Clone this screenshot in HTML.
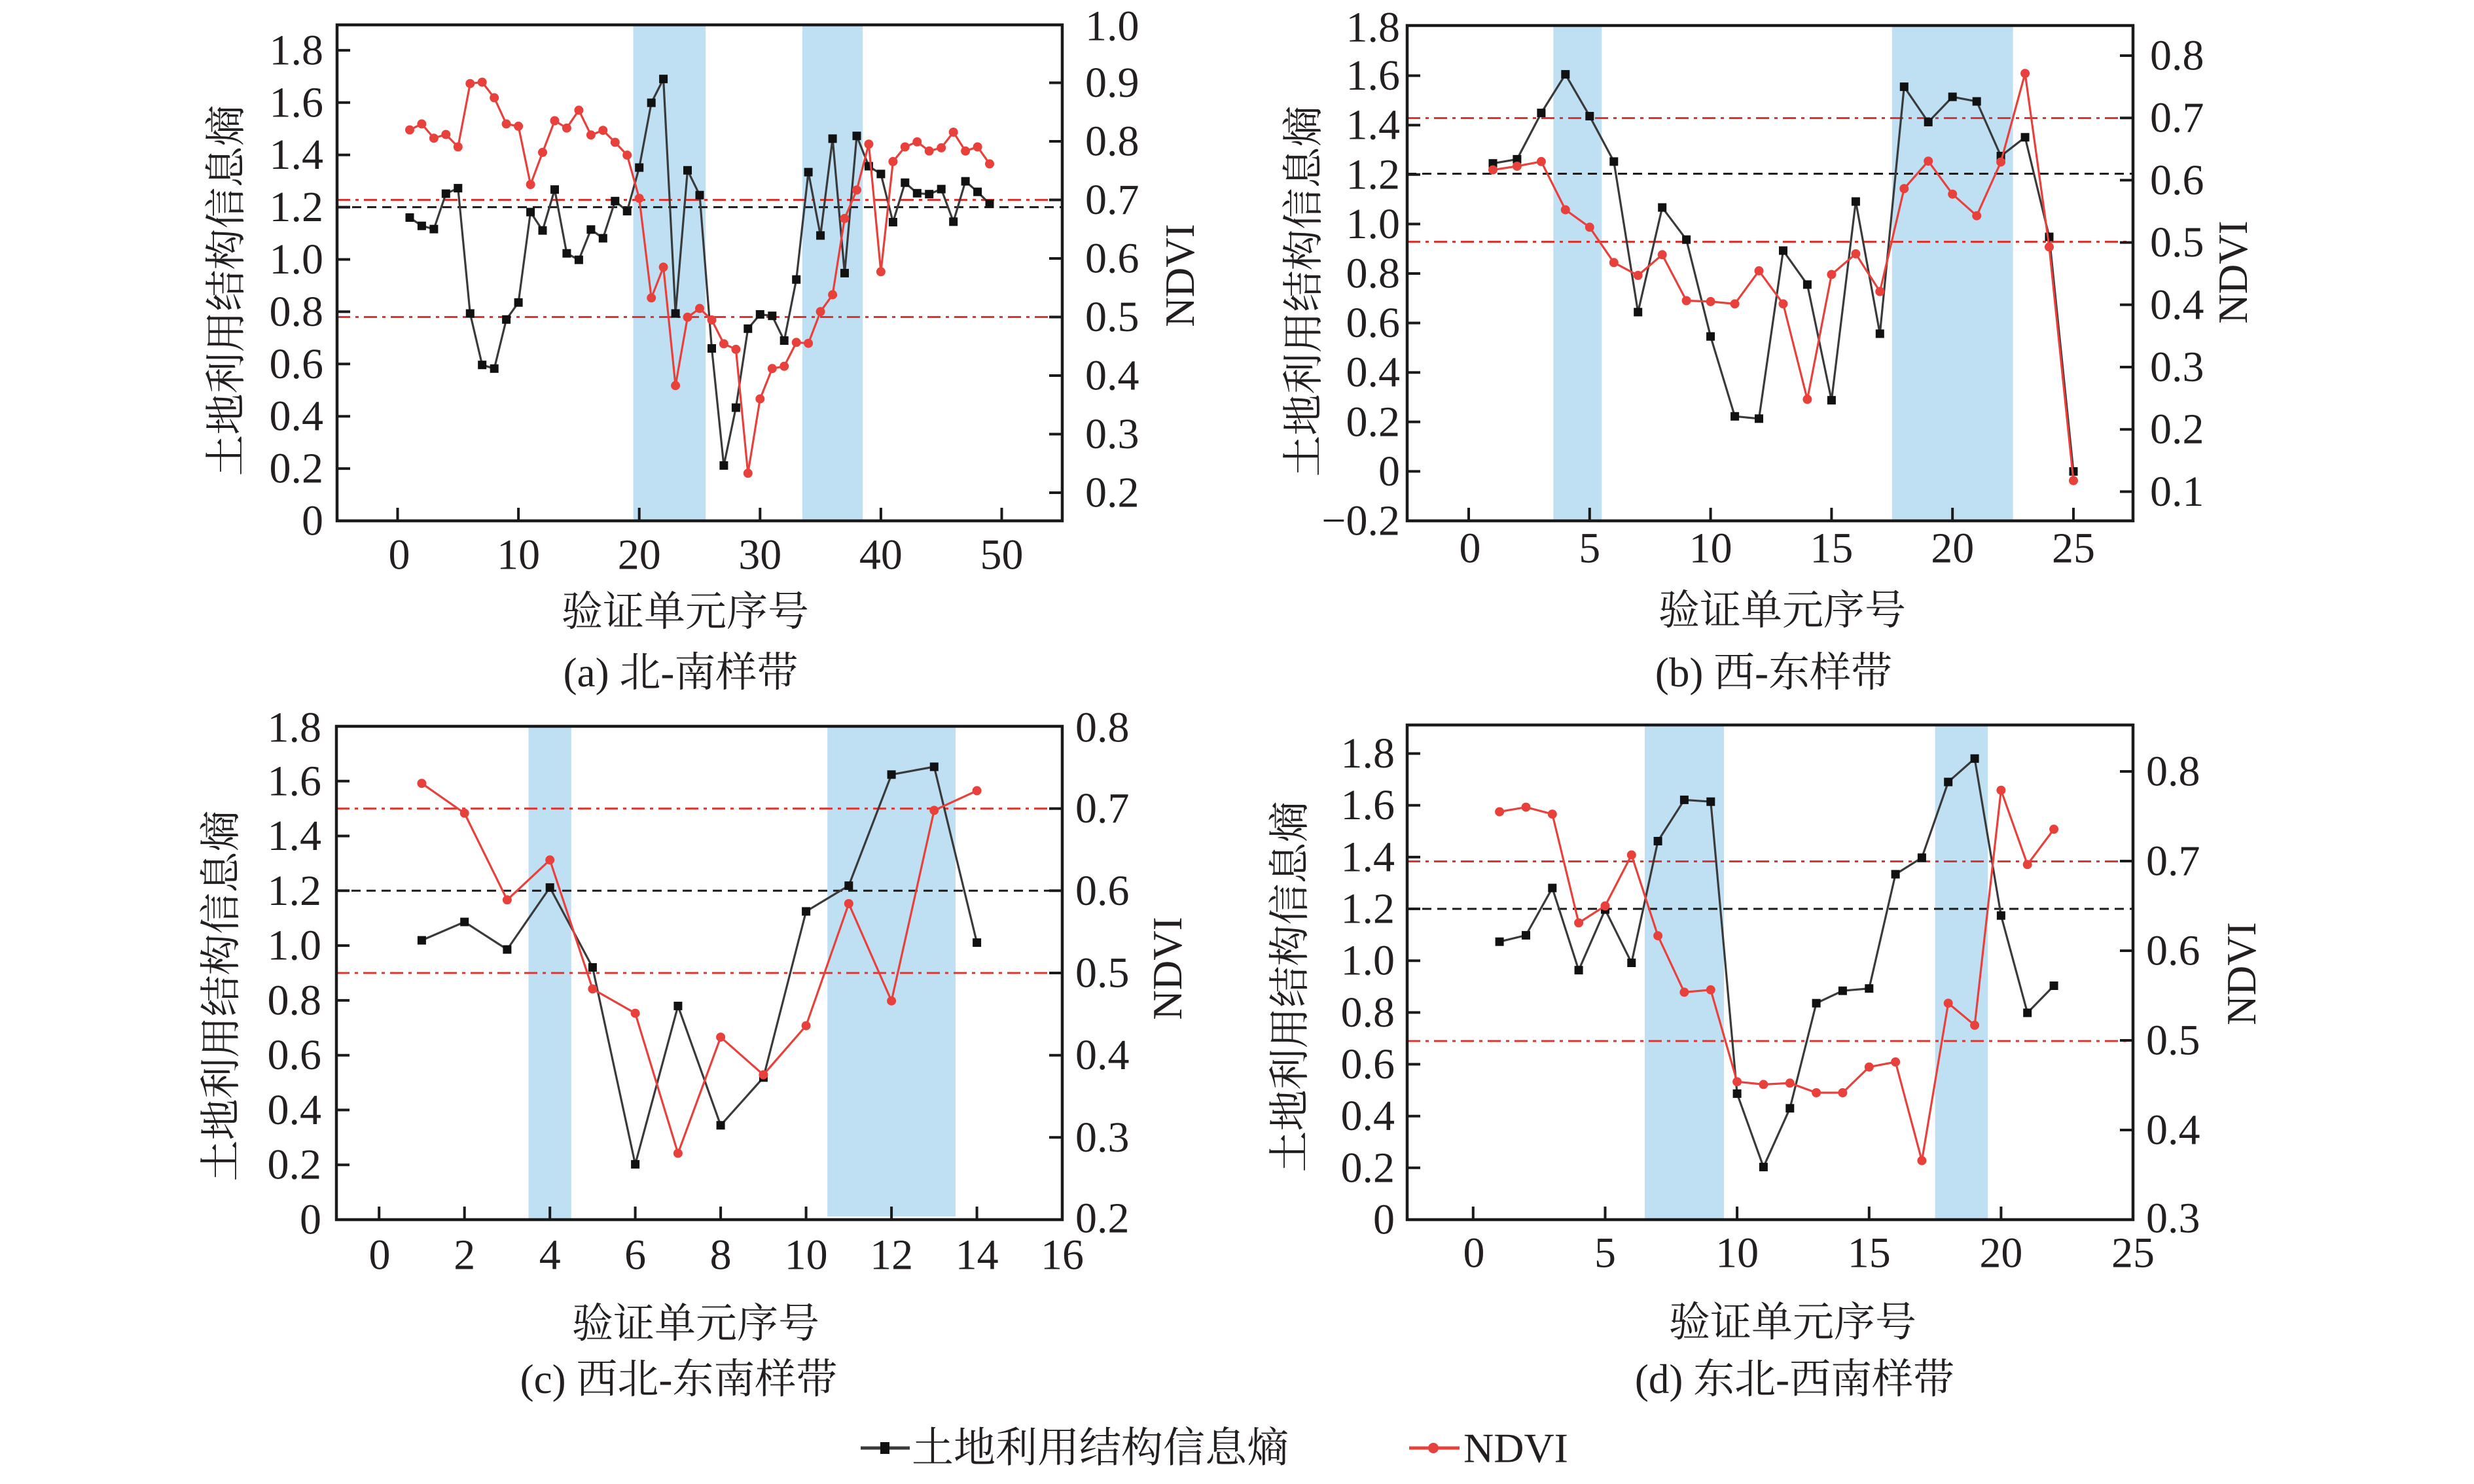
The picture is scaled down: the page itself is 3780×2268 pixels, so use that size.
<!DOCTYPE html>
<html><head><meta charset="utf-8"><style>
html,body{margin:0;padding:0;background:#fff;}
svg{display:block;}
.t{font-family:"Liberation Serif","Noto Serif CJK SC",serif;font-size:66px;fill:#231f20;dominant-baseline:central;}
.c{font-family:"Liberation Serif","Noto Serif CJK SC","Noto Sans CJK SC",serif;font-size:63px;fill:#231f20;dominant-baseline:central;}
.l{text-anchor:end;}
.m{text-anchor:middle;}
.fr{fill:none;stroke:#1a1a1a;stroke-width:4.5;}
.tk{fill:none;stroke:#1a1a1a;stroke-width:4;}
.band{fill:#bfe0f3;}
.bd{stroke:#1a1a1a;stroke-width:3;stroke-dasharray:14 9;fill:none;}
.rd{stroke:#e0332e;stroke-width:3;stroke-dasharray:20 8 5 8;fill:none;}
.sb{fill:none;stroke:#3a3a3a;stroke-width:3.2;marker-start:url(#ms);marker-mid:url(#ms);marker-end:url(#ms);}
.sr{fill:none;stroke:#e8413c;stroke-width:3.2;marker-start:url(#mc);marker-mid:url(#mc);marker-end:url(#mc);}
</style></head><body>
<svg width="3780" height="2268" viewBox="0 0 3780 2268" xmlns="http://www.w3.org/2000/svg">
<defs>
<marker id="ms" viewBox="-8 -8 16 16" markerWidth="16" markerHeight="16" markerUnits="userSpaceOnUse" refX="0" refY="0"><rect x="-6.5" y="-6.5" width="13" height="13" fill="#111"/></marker>
<marker id="mc" viewBox="-8 -8 16 16" markerWidth="16" markerHeight="16" markerUnits="userSpaceOnUse" refX="0" refY="0"><circle r="7" fill="#e8413c"/></marker>
</defs>
<rect width="3780" height="2268" fill="#fff"/>

<!-- ============ Panel a ============ -->
<rect class="band" x="967.5" y="38" width="110.7" height="758"/>
<rect class="band" x="1225.9" y="38" width="92.3" height="758"/>
<line class="bd" x1="515" y1="316.6" x2="1623" y2="316.6"/>
<line class="rd" x1="515" y1="305.5" x2="1623" y2="305.5"/>
<line class="rd" x1="515" y1="484.5" x2="1623" y2="484.5"/>
<polyline class="sb" points="626.0,332.5 644.4,345.2 662.9,350.1 681.3,296.0 699.8,287.6 718.3,479.1 736.7,557.7 755.2,563.3 773.6,488.3 792.1,462.3 810.6,324.1 829.0,352.2 847.5,289.7 865.9,387.2 884.4,397.1 902.9,350.8 921.3,364.1 939.8,307.3 958.2,322.7 976.7,256.1 995.2,157.1 1013.6,120.7 1032.1,479.1 1050.5,260.3 1069.0,298.2 1087.5,532.5 1105.9,711.4 1124.4,623.0 1142.8,502.3 1161.3,480.5 1179.8,482.7 1198.2,520.5 1216.7,427.2 1235.1,263.1 1253.6,359.9 1272.1,211.9 1290.5,417.4 1309.0,207.7 1327.4,254.0 1345.9,265.9 1364.4,339.5 1382.8,279.2 1401.3,295.3 1419.7,296.7 1438.2,289.0 1456.7,338.8 1475.1,277.1 1493.6,293.2 1512.0,311.5"/>
<polyline class="sr" points="626.0,198.5 644.4,189.4 662.9,211.2 681.3,205.5 699.8,224.5 718.3,127.7 736.7,125.6 755.2,149.4 773.6,189.4 792.1,192.9 810.6,282.0 829.0,232.9 847.5,184.5 865.9,195.7 884.4,168.4 902.9,206.3 921.3,199.2 939.8,217.5 958.2,237.1 976.7,303.1 995.2,455.3 1013.6,408.3 1032.1,589.3 1050.5,484.8 1069.0,471.4 1087.5,489.0 1105.9,525.4 1124.4,533.9 1142.8,723.3 1161.3,609.6 1179.8,563.3 1198.2,559.8 1216.7,523.3 1235.1,524.7 1253.6,476.3 1272.1,450.4 1290.5,333.9 1309.0,290.4 1327.4,220.3 1345.9,415.3 1364.4,246.9 1382.8,224.5 1401.3,216.8 1419.7,230.8 1438.2,225.9 1456.7,202.0 1475.1,230.8 1493.6,224.5 1512.0,250.4"/>
<rect class="fr" x="515" y="38" width="1108" height="758"/>
<path class="tk" d="M607.5 796v-20M792.1 796v-20M976.7 796v-20M1161.3 796v-20M1345.9 796v-20M1530.5 796v-20M515 716.1h20M515 636.2h20M515 556.3h20M515 476.4h20M515 396.5h20M515 316.6h20M515 236.7h20M515 156.8h20M515 76.9h20M1623 126.5h-20M1623 216h-20M1623 305.5h-20M1623 395h-20M1623 484.5h-20M1623 574h-20M1623 663.5h-20M1623 753h-20"/>
<g class="t l">
<text x="494" y="796">0</text><text x="494" y="716.1">0.2</text><text x="494" y="636.2">0.4</text><text x="494" y="556.3">0.6</text><text x="494" y="476.4">0.8</text><text x="494" y="396.5">1.0</text><text x="494" y="316.6">1.2</text><text x="494" y="236.7">1.4</text><text x="494" y="156.8">1.6</text><text x="494" y="76.9">1.8</text>
</g>
<g class="t">
<text x="1658" y="40">1.0</text><text x="1658" y="126.5">0.9</text><text x="1658" y="216">0.8</text><text x="1658" y="305.5">0.7</text><text x="1658" y="395">0.6</text><text x="1658" y="484.5">0.5</text><text x="1658" y="574">0.4</text><text x="1658" y="663.5">0.3</text><text x="1658" y="753">0.2</text>
</g>
<g class="t m">
<text x="610" y="848">0</text><text x="792.1" y="848">10</text><text x="976.7" y="848">20</text><text x="1161.3" y="848">30</text><text x="1345.9" y="848">40</text><text x="1530.5" y="848">50</text>
</g>
<text class="c m" x="1047" y="935">验证单元序号</text>
<text class="c m" x="1040" y="1028">(a) 北-南样带</text>
<text class="c m" transform="translate(346,444) rotate(-90)">土地利用结构信息熵</text>
<text class="c m" transform="translate(1803,421) rotate(-90)">NDVI</text>

<!-- ============ Panel b ============ -->
<rect class="band" x="2373.4" y="39" width="73.9" height="757"/>
<rect class="band" x="2890.8" y="39" width="184.8" height="757"/>
<line class="bd" x1="2150" y1="265.5" x2="3259" y2="265.5"/>
<line class="rd" x1="2150" y1="180.5" x2="3259" y2="180.5"/>
<line class="rd" x1="2150" y1="369.5" x2="3259" y2="369.5"/>
<polyline class="sb" points="2281.0,249.7 2317.9,243.4 2354.9,172.6 2391.8,113.6 2428.8,177.5 2465.8,246.9 2502.7,477.0 2539.7,317.1 2576.6,366.2 2613.6,514.2 2650.6,636.3 2687.5,639.8 2724.5,383.0 2761.4,434.9 2798.4,611.7 2835.4,308.0 2872.3,510.0 2909.3,132.6 2946.2,186.6 2983.2,148.0 3020.2,155.0 3057.1,238.5 3094.1,209.8 3131.0,362.0 3168.0,720.5"/>
<polyline class="sr" points="2281.0,259.6 2317.9,254.0 2354.9,246.9 2391.8,320.6 2428.8,347.3 2465.8,401.3 2502.7,420.9 2539.7,389.3 2576.6,459.5 2613.6,460.9 2650.6,464.4 2687.5,413.9 2724.5,464.4 2761.4,610.3 2798.4,419.5 2835.4,387.9 2872.3,445.5 2909.3,288.3 2946.2,246.2 2983.2,296.7 3020.2,329.7 3057.1,247.6 3094.1,112.2 3131.0,377.4 3168.0,734.5"/>
<rect class="fr" x="2150" y="39" width="1109" height="757"/>
<path class="tk" d="M2244 796v-20M2428.8 796v-20M2613.6 796v-20M2798.4 796v-20M2983.2 796v-20M3168 796v-20M2150 720.4h20M2150 644.8h20M2150 569.2h20M2150 493.6h20M2150 418h20M2150 342.4h20M2150 266.8h20M2150 191.2h20M2150 115.6h20M3259 85h-20M3259 180.2h-20M3259 275.4h-20M3259 370.6h-20M3259 465.8h-20M3259 561h-20M3259 656.2h-20M3259 751.4h-20"/>
<g class="t l">
<text x="2139" y="796">−0.2</text><text x="2139" y="720.4">0</text><text x="2139" y="644.8">0.2</text><text x="2139" y="569.2">0.4</text><text x="2139" y="493.6">0.6</text><text x="2139" y="418">0.8</text><text x="2139" y="342.4">1.0</text><text x="2139" y="266.8">1.2</text><text x="2139" y="191.2">1.4</text><text x="2139" y="115.6">1.6</text><text x="2139" y="42">1.8</text>
</g>
<g class="t">
<text x="3285" y="85">0.8</text><text x="3285" y="180.2">0.7</text><text x="3285" y="275.4">0.6</text><text x="3285" y="370.6">0.5</text><text x="3285" y="465.8">0.4</text><text x="3285" y="561">0.3</text><text x="3285" y="656.2">0.2</text><text x="3285" y="751.4">0.1</text>
</g>
<g class="t m">
<text x="2246" y="838">0</text><text x="2428.8" y="838">5</text><text x="2613.6" y="838">10</text><text x="2798.4" y="838">15</text><text x="2983.2" y="838">20</text><text x="3168" y="838">25</text>
</g>
<text class="c m" x="2723" y="933">验证单元序号</text>
<text class="c m" x="2710" y="1028">(b) 西-东样带</text>
<text class="c m" transform="translate(1992,445) rotate(-90)">土地利用结构信息熵</text>
<text class="c m" transform="translate(3412,416) rotate(-90)">NDVI</text>

<!-- ============ Panel c ============ -->
<rect class="band" x="807.5" y="1110" width="65.3" height="754"/>
<rect class="band" x="1264.2" y="1110" width="195.8" height="749"/>
<line class="bd" x1="514" y1="1361.3" x2="1623" y2="1361.3"/>
<line class="rd" x1="514" y1="1235.7" x2="1623" y2="1235.7"/>
<line class="rd" x1="514" y1="1487" x2="1623" y2="1487"/>
<polyline class="sb" points="644.4,1437.1 709.7,1409.0 774.9,1451.1 840.2,1356.4 905.4,1478.5 970.6,1779.4 1035.9,1537.4 1101.1,1719.8 1166.4,1646.8 1231.6,1392.9 1296.8,1353.6 1362.1,1183.8 1427.3,1171.9 1492.6,1440.6"/>
<polyline class="sr" points="644.4,1197.2 709.7,1242.8 774.9,1375.3 840.2,1314.3 905.4,1511.4 970.6,1548.6 1035.9,1762.6 1101.1,1585.1 1166.4,1642.6 1231.6,1567.6 1296.8,1381.0 1362.1,1529.7 1427.3,1238.5 1492.6,1208.4"/>
<rect class="fr" x="514" y="1110" width="1109" height="754"/>
<path class="tk" d="M579.2 1864v-20M709.7 1864v-20M840.2 1864v-20M970.6 1864v-20M1101.1 1864v-20M1231.6 1864v-20M1362.1 1864v-20M1492.6 1864v-20M514 1780.2h20M514 1696.4h20M514 1612.7h20M514 1528.9h20M514 1445.1h20M514 1361.3h20M514 1277.6h20M514 1193.8h20M1623 1738.3h-20M1623 1612.7h-20M1623 1487h-20M1623 1361.3h-20M1623 1235.7h-20"/>
<g class="t l">
<text x="491" y="1864">0</text><text x="491" y="1780.2">0.2</text><text x="491" y="1696.4">0.4</text><text x="491" y="1612.7">0.6</text><text x="491" y="1528.9">0.8</text><text x="491" y="1445.1">1.0</text><text x="491" y="1361.3">1.2</text><text x="491" y="1277.6">1.4</text><text x="491" y="1193.8">1.6</text><text x="491" y="1112">1.8</text>
</g>
<g class="t">
<text x="1643" y="1112">0.8</text><text x="1643" y="1235.7">0.7</text><text x="1643" y="1361.3">0.6</text><text x="1643" y="1487">0.5</text><text x="1643" y="1612.7">0.4</text><text x="1643" y="1738.3">0.3</text><text x="1643" y="1862">0.2</text>
</g>
<g class="t m">
<text x="580" y="1918">0</text><text x="709.7" y="1918">2</text><text x="840.2" y="1918">4</text><text x="970.6" y="1918">6</text><text x="1101.1" y="1918">8</text><text x="1231.6" y="1918">10</text><text x="1362.1" y="1918">12</text><text x="1492.6" y="1918">14</text><text x="1623" y="1918">16</text>
</g>
<text class="c m" x="1063" y="2023">验证单元序号</text>
<text class="c m" x="1037" y="2108">(c) 西北-东南样带</text>
<text class="c m" transform="translate(338,1522) rotate(-90)">土地利用结构信息熵</text>
<text class="c m" transform="translate(1784,1480) rotate(-90)">NDVI</text>

<!-- ============ Panel d ============ -->
<rect class="band" x="2513" y="1108" width="121" height="756"/>
<rect class="band" x="2956.6" y="1108" width="80.6" height="756"/>
<line class="bd" x1="2150" y1="1389" x2="3259" y2="1389"/>
<line class="rd" x1="2150" y1="1316.5" x2="3259" y2="1316.5"/>
<line class="rd" x1="2150" y1="1591" x2="3259" y2="1591"/>
<polyline class="sb" points="2291.1,1439.2 2331.5,1429.4 2371.8,1357.1 2412.1,1482.7 2452.5,1390.1 2492.8,1471.5 2533.1,1285.5 2573.4,1222.4 2613.8,1225.2 2654.1,1671.4 2694.4,1783.6 2734.8,1693.8 2775.1,1533.2 2815.4,1514.2 2855.8,1510.7 2896.1,1336.1 2936.4,1310.8 2976.7,1195.1 3017.1,1159.3 3057.4,1399.2 3097.7,1547.9 3138.1,1506.5"/>
<polyline class="sr" points="2291.1,1240.6 2331.5,1233.6 2371.8,1244.2 2412.1,1410.4 2452.5,1384.5 2492.8,1306.6 2533.1,1430.1 2573.4,1516.4 2613.8,1512.8 2654.1,1653.2 2694.4,1657.4 2734.8,1655.3 2775.1,1670.0 2815.4,1670.0 2855.8,1630.7 2896.1,1623.0 2936.4,1773.8 2976.7,1533.2 3017.1,1566.9 3057.4,1207.7 3097.7,1321.3 3138.1,1267.3"/>
<rect class="fr" x="2150" y="1108" width="1109" height="756"/>
<path class="tk" d="M2250.8 1864v-20M2452.5 1864v-20M2654.1 1864v-20M2855.8 1864v-20M3057.4 1864v-20M2150 1784.8h20M2150 1705.7h20M2150 1626.5h20M2150 1547.4h20M2150 1468.2h20M2150 1389h20M2150 1309.9h20M2150 1230.7h20M2150 1151.6h20M3259 1727h-20M3259 1590h-20M3259 1453h-20M3259 1316h-20M3259 1179h-20"/>
<g class="t l">
<text x="2131" y="1864">0</text><text x="2131" y="1784.8">0.2</text><text x="2131" y="1705.7">0.4</text><text x="2131" y="1626.5">0.6</text><text x="2131" y="1547.4">0.8</text><text x="2131" y="1468.2">1.0</text><text x="2131" y="1389">1.2</text><text x="2131" y="1309.9">1.4</text><text x="2131" y="1230.7">1.6</text><text x="2131" y="1151.6">1.8</text>
</g>
<g class="t">
<text x="3279" y="1179">0.8</text><text x="3279" y="1316">0.7</text><text x="3279" y="1453">0.6</text><text x="3279" y="1590">0.5</text><text x="3279" y="1727">0.4</text><text x="3279" y="1862">0.3</text>
</g>
<g class="t m">
<text x="2252" y="1915">0</text><text x="2452.5" y="1915">5</text><text x="2654.1" y="1915">10</text><text x="2855.8" y="1915">15</text><text x="3057.4" y="1915">20</text><text x="3259" y="1915">25</text>
</g>
<text class="c m" x="2739" y="2021">验证单元序号</text>
<text class="c m" x="2742" y="2108">(d) 东北-西南样带</text>
<text class="c m" transform="translate(1971,1508) rotate(-90)">土地利用结构信息熵</text>
<text class="c m" transform="translate(3425,1488) rotate(-90)">NDVI</text>

<!-- ============ Legend ============ -->
<line x1="1315" y1="2213" x2="1390" y2="2213" stroke="#3a3a3a" stroke-width="5"/>
<rect x="1345" y="2204" width="14" height="18" fill="#111"/>
<text class="c" x="1393" y="2213" style="font-size:64px">土地利用结构信息熵</text>
<line x1="2153" y1="2213" x2="2230" y2="2213" stroke="#e8413c" stroke-width="5"/>
<circle cx="2190" cy="2213" r="8" fill="#e8413c"/>
<text class="c" x="2236" y="2213" style="font-size:64px">NDVI</text>
</svg>
</body></html>
